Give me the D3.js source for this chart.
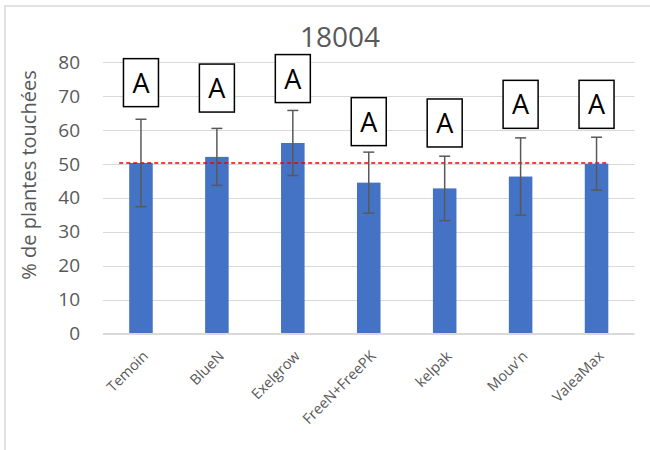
<!DOCTYPE html>
<html>
<head>
<meta charset="utf-8">
<script src="https://cdn.jsdelivr.net/npm/d3@7"></script>
<style>
  html, body { margin: 0; padding: 0; background: #fff; }
  svg { display: block; }
</style>
</head>
<body>
<svg id="chart" width="650" height="450"></svg>
<script>
const title = "18004";
const yTitle = "% de plantes touchées";
const categories = ["Temoin", "BlueN", "Exelgrow", "FreeN+FreePK", "kelpak", "Mouv'n", "ValeaMax"];
const values = [50.3, 52.1, 56.2, 44.5, 42.8, 46.3, 50.1];
const errors = [12.9, 8.4, 9.6, 9.0, 9.5, 11.4, 7.8];
const letters = ["A", "A", "A", "A", "A", "A", "A"];
const letterPos = [74.0, 72.4, 75.2, 62.5, 62.1, 67.6, 67.6];
const threshold = 50.3;
const yTicks = [0, 10, 20, 30, 40, 50, 60, 70, 80];

const svg = d3.select("#chart");
const grey = "#595959";
const font = "'Open Sans', 'DejaVu Sans', sans-serif";

// chart border
svg.append("rect").attr("x", 5).attr("y", 6).attr("width", 700).attr("height", 500)
  .attr("fill", "none").attr("stroke", "#d9d9d9").attr("stroke-width", 1.5);

const plotLeft = 103, plotRight = 634.5, plotTop = 62.3, plotBottom = 333.5;
const x = d3.scaleBand().domain(categories).range([plotLeft, plotRight]).paddingInner(0.69).paddingOuter(0.345);
const y = d3.scaleLinear().domain([0, 80]).range([plotBottom, plotTop]);

// gridlines
svg.append("g").selectAll("line").data(yTicks.filter(d => d > 0)).join("line")
  .attr("x1", plotLeft).attr("x2", plotRight)
  .attr("y1", d => Math.round(y(d)) + 0.5).attr("y2", d => Math.round(y(d)) + 0.5)
  .attr("stroke", "#d9d9d9").attr("stroke-width", 1);

// y tick labels via axis
const yAxis = svg.append("g").attr("transform", `translate(${plotLeft},0)`)
  .call(d3.axisLeft(y).tickValues(yTicks).tickSize(0).tickPadding(23));
yAxis.select(".domain").remove();
yAxis.selectAll("text").attr("fill", grey).style("font-family", font).style("font-size", "19px");

// bars
svg.append("g").selectAll("rect").data(categories).join("rect")
  .attr("x", d => x(d)).attr("width", x.bandwidth())
  .attr("y", (d, i) => y(values[i])).attr("height", (d, i) => y(0) - y(values[i]))
  .attr("fill", "#4472c4");

// x axis line
svg.append("line").attr("x1", plotLeft).attr("x2", plotRight).attr("y1", y(0) + 0.5).attr("y2", y(0) + 0.5)
  .attr("stroke", "#d9d9d9").attr("stroke-width", 2);

// threshold line
svg.append("line")
  .attr("x1", x(categories[0]) - 10).attr("x2", x(categories[categories.length - 1]) + x.bandwidth())
  .attr("y1", y(threshold)).attr("y2", y(threshold))
  .attr("stroke", "#ee0000").attr("stroke-width", 1.3).attr("stroke-dasharray", "4,3");

// error bars
const eb = svg.append("g").attr("stroke", grey).attr("stroke-width", 1.5);
categories.forEach((c, i) => {
  const cx = x(c) + x.bandwidth() / 2;
  const hi = y(values[i] + errors[i]), lo = y(values[i] - errors[i]);
  eb.append("line").attr("x1", cx).attr("x2", cx).attr("y1", hi).attr("y2", lo);
  eb.append("line").attr("x1", cx - 5.5).attr("x2", cx + 5.5).attr("y1", hi).attr("y2", hi);
  eb.append("line").attr("x1", cx - 5.5).attr("x2", cx + 5.5).attr("y1", lo).attr("y2", lo);
});

// letter boxes
const lb = svg.append("g");
categories.forEach((c, i) => {
  const cx = x(c) + x.bandwidth() / 2;
  const cy = y(letterPos[i]);
  lb.append("rect").attr("x", cx - 17.5).attr("y", cy - 24).attr("width", 35).attr("height", 48)
    .attr("fill", "#fff").attr("stroke", "#000").attr("stroke-width", 1.5);
  lb.append("text").attr("x", cx).attr("y", cy + 10).attr("text-anchor", "middle")
    .style("font-family", font).style("font-size", "27px").attr("fill", "#000").text(letters[i]);
});

// x labels
svg.append("g").selectAll("text").data(categories).join("text")
  .attr("transform", d => `translate(${x(d) + x.bandwidth() / 2 + 8},357) rotate(-45)`)
  .attr("text-anchor", "end").attr("fill", grey)
  .style("font-family", font).style("font-size", "14.5px").text(d => d);

// title
svg.append("text").attr("x", 340).attr("y", 47).attr("text-anchor", "middle")
  .attr("fill", grey).style("font-family", font).style("font-size", "28px").text(title);

// y title
svg.append("text").attr("transform", "translate(36,175) rotate(-90)")
  .attr("text-anchor", "middle").attr("fill", grey)
  .style("font-family", font).style("font-size", "20px").text(yTitle);
</script>
</body>
</html>
